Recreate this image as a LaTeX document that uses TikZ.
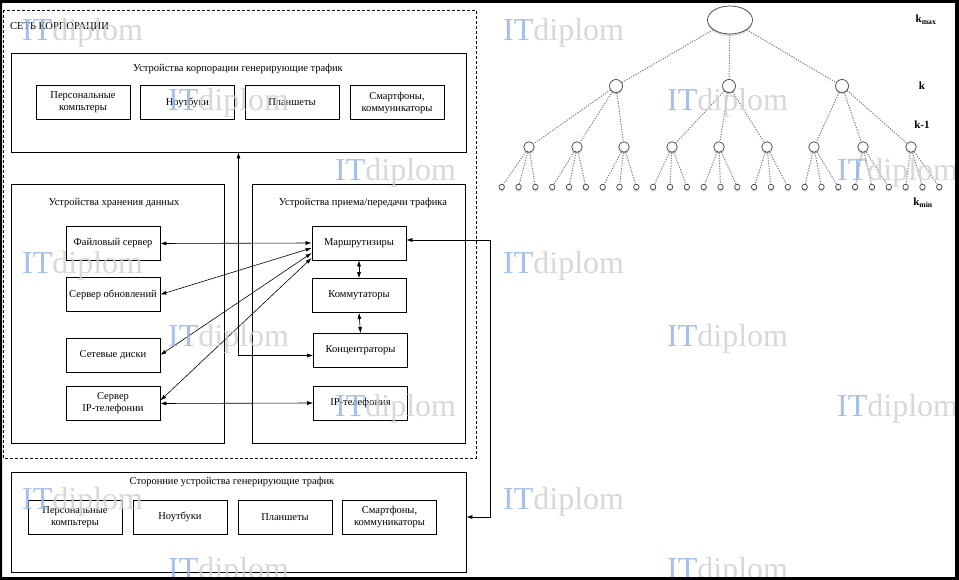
\documentclass[tikz,border=0pt]{standalone}
\usepackage{fontspec}
\setmainfont{Liberation Serif}
\usetikzlibrary{arrows.meta,shapes.geometric,shadows}
\definecolor{WmBlue}{HTML}{8FB1E6}
\definecolor{WmGray}{HTML}{CFCFCF}
\definecolor{EdgeGray}{HTML}{7A7A7A}
\newcommand{\wmark}[3]{% name, x, baseline y
  \node[wmark] (#1) at (#2,#3) {\textcolor{WmBlue}{IT}\textcolor{WmGray}{diplom}};
}
\tikzset{
  dev/.style={draw, line width=0.7pt, minimum width=94pt, minimum height=34pt,
    align=center, inner sep=1pt, font=\fontsize{10.5}{12}\selectfont},
  grp/.style={draw, line width=0.9pt, inner sep=0pt},
  grptitle/.style={font=\fontsize{10.5}{12}\selectfont, inner sep=0pt},
  link/.style={<->, >={Latex[length=6pt,width=4pt]}, line width=0.6pt},
  lvl/.style={draw=black!75, fill=white, line width=0.7pt, inner sep=0pt,
    drop shadow={shadow xshift=0pt, shadow yshift=-2pt, opacity=0.3}},
  treeedge/.style={EdgeGray, line width=1pt, dash pattern=on 1.2pt off 1.4pt},
  lbl/.style={font=\bfseries\fontsize{11}{12}\selectfont, inner sep=0pt},
  wmark/.style={anchor=base west, inner sep=0pt, text opacity=0.8,
    font=\fontsize{32}{32}\selectfont}
}

\begin{document}
\begin{tikzpicture}[x=1pt, y=-1pt]
\useasboundingbox (0,0) rectangle (959,580);
\fill[white] (0,0) rectangle (959,580);

% Corporate network
\draw[line width=0.7pt, dash pattern=on 3pt off 2pt] (3,10) rectangle (476,458);
\node[grptitle, anchor=west] (net) at (10,27) {СЕТЬ КОРПОРАЦИИ};

% Corporate devices generating traffic
\node[grp, minimum width=455pt, minimum height=99pt] (corp) at (238.5,102.5) {};
\node[grptitle] (corptitle) at (238,69) {Устройства корпорации генерирующие трафик};
\node[dev] (pc1) at (83,102.5) {Персональные\\компьтеры};
\node[dev] (nb1) at (187.5,102.5) {Ноутбуки};
\node[dev] (tab1) at (292,102.5) {Планшеты};
\node[dev] (sm1) at (397,102.5) {Смартфоны,\\коммуникаторы};

% Data storage
\node[grp, minimum width=213pt, minimum height=259pt] (store) at (117.5,313.5) {};
\node[grptitle] (storetitle) at (114,203) {Устройства хранения данных};
\node[dev] (fs) at (113,243.5) {Файловый сервер};
\node[dev] (upd) at (113,294.5) {Сервер обновлений};
\node[dev] (disk) at (113,355) {Сетевые диски};
\node[dev] (ipsrv) at (113,403.5) {Сервер\\IP-телефонии};

% Traffic transmission
\node[grp, minimum width=213pt, minimum height=259pt] (traf) at (358.5,313.5) {};
\node[grptitle] (traftitle) at (363,203) {Устройства приема/передачи трафика};
\node[dev] (rt) at (359,243) {Маршрутизиры};
\node[dev] (sw) at (359,295.5) {Коммутаторы};
\node[dev] (hub) at (360.5,350.5) {Концентраторы};
\node[dev] (ipt) at (360.5,403) {IP-телефония};

% Third-party devices
\node[grp, minimum width=455pt, minimum height=100pt] (ext) at (238.5,522) {};
\node[grptitle] (exttitle) at (232,482) {Сторонние устройства генерирующие трафик};
\node[dev] (pc2) at (75,517) {Персональные\\компьтеры};
\node[dev] (nb2) at (180,517) {Ноутбуки};
\node[dev] (tab2) at (285,517) {Планшеты};
\node[dev] (sm2) at (389.5,517) {Смартфоны,\\коммуникаторы};

% Links
\draw[link] (fs.east) -- (rt.west);
\draw[link] (upd.east) -- ([yshift=-5pt]rt.west);
\draw[link] (disk.east) -- ([yshift=-10pt]rt.west);
\draw[link] ([yshift=3pt]ipsrv.east) -- ([yshift=-15pt]rt.west);
\draw[link] (ipsrv.east) -- (ipt.west);
\draw[link] (rt.south) -- (sw.north);
\draw[link] (sw.south) -- (hub.north);
\draw[link] (corp.south) |- ([yshift=-5pt]hub.west);
\coordinate (xturn) at (490,517);
\draw[link] ([yshift=3pt]rt.east) -| (xturn) -- (xturn -| ext.east);

% Hierarchy levels
\node[lvl, ellipse, minimum width=45pt, minimum height=28pt] (root) at (730,20) {};
\foreach \x [count=\i] in {616,729,842}
  \node[lvl, circle, minimum size=13pt] (k\i) at (\x,86) {};
\foreach \x [count=\i] in {529,577,624,672,719,767,814,863,911}
  \node[lvl, circle, minimum size=10.5pt] (m\i) at (\x,147) {};
\foreach \i in {1,...,27}
  \node[lvl, circle, minimum size=5.5pt] (l\i) at ({501.7+16.83*(\i-1)},187) {};

\foreach \i in {1,2,3}
  \draw[treeedge] (root) -- (k\i);
\foreach \i in {1,...,9}{
  \pgfmathtruncatemacro\p{ceil(\i/3)}
  \draw[treeedge] (k\p) -- (m\i);
}
\foreach \i in {1,...,27}{
  \pgfmathtruncatemacro\p{ceil(\i/3)}
  \draw[treeedge] (m\p) -- (l\i);
}

\node[lbl] (kmax) at (926,20) {k\textsubscript{max}};
\node[lbl] (kk) at (922,86) {k};
\node[lbl] (kprev) at (922,125) {k-1};
\node[lbl] (kmin) at (923,203) {k\textsubscript{min}};

% Watermarks
\wmark{wm1}{22}{41}
\wmark{wm2}{503}{41}
\wmark{wm3}{168}{111}
\wmark{wm4}{667}{111}
\wmark{wm5}{335}{181}
\wmark{wm6}{837}{181}
\wmark{wm7}{22}{274}
\wmark{wm8}{503}{274}
\wmark{wm9}{168}{346}
\wmark{wm10}{667}{346}
\wmark{wm11}{335}{416}
\wmark{wm12}{837}{416}
\wmark{wm13}{22}{509}
\wmark{wm14}{503}{509}
\wmark{wm15}{168}{579}
\wmark{wm16}{667}{579}

% Frame
\fill[black, even odd rule] (0,0) rectangle (959,580) (2,3) rectangle (955,577);

\end{tikzpicture}
\end{document}
